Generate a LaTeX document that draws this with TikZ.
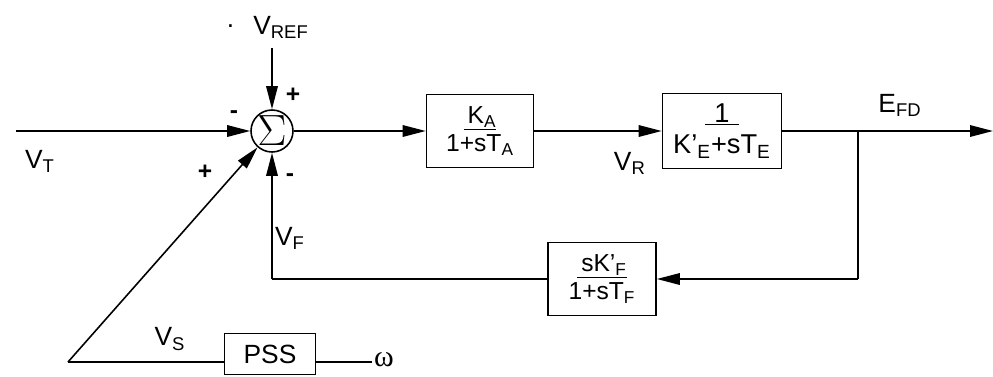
\documentclass[tikz,border=0pt]{standalone}
\usepackage{fontspec}
\setmainfont{Liberation Sans}
\newfontfamily\serifgr{Liberation Serif}
\usetikzlibrary{arrows.meta,positioning,calc}

\begin{document}
\begin{tikzpicture}[
    font=\fontsize{15}{17}\selectfont,
    blk/.style={draw, line width=0.9pt, minimum width=#1, minimum height=1.46cm, align=center, inner sep=2pt, font=\fontsize{14}{16}\selectfont},
    sumnode/.style={draw, circle, line width=0.9pt, minimum size=0.84cm, inner sep=0pt},
    arr/.style={-{Triangle[length=4.6mm,width=2.3mm]}, line width=0.9pt},
    ln/.style={line width=0.9pt},
    sgn/.style={font=\fontsize{14}{16}\selectfont\bfseries}
]
\useasboundingbox (0,0) rectangle (19.86,7.52);

% Summing point and inputs
\node[sumnode] (sum) at (5.44,4.9) {\fontsize{23}{23}\selectfont$\Sigma$};
\coordinate (vtin) at (0.32,4.9);
\coordinate (vrefin) at (5.44,6.56);
\node (vt) at (0.8,4.3) {V\textsubscript{T}};
\node (vref) at (5.62,6.98) {V\textsubscript{REF}};
\node[left=0.25cm of vref.west, yshift=0.02cm, inner sep=0pt] (dot) {.};

\draw[arr] (vtin) -- (sum);
\draw[arr] (vrefin) -- (sum);

% Forward path
\node[blk=2.14cm] (ka) at (9.6,4.9) {\underline{\,K\textsubscript{A}}\\1+sT\textsubscript{A}};
\node[blk=2.38cm, minimum height=1.5cm, font=\fontsize{15.5}{18}\selectfont] (ke) at (14.44,4.9) {\underline{\,\,1\,\,}\\K'\textsubscript{E}+sT\textsubscript{E}};
\coordinate (efd) at (19.86,4.9);
\coordinate (tap) at (17.16,4.9);

\draw[arr] (sum) -- (ka);
\draw[arr] (ka) -- (ke) node[pos=0.75, below=0.3cm] (vr) {V\textsubscript{R}};
\draw[arr] (ke) -- (efd);
\node (efdlbl) at (18.0,5.42) {E\textsubscript{FD}};

% Rate feedback
\node[blk=2.16cm] (kf) at (12.04,1.94) {\underline{\,sK'\textsubscript{F}}\\1+sT\textsubscript{F}};
\coordinate (fbr) at (17.16,1.94);
\coordinate (fbl) at (5.44,1.94);

\draw[ln] (tap) -- (fbr);
\draw[arr] (fbr) -- (kf);
\draw[ln] (kf) -- (fbl);
\draw[arr] (fbl) -- (sum);
\node (vf) at (5.8,2.76) {V\textsubscript{F}};

% Stabilizer
\node[draw, line width=0.9pt, minimum width=1.82cm, minimum height=0.82cm] (pss) at (5.4,0.44) {PSS};
\coordinate (corner) at (1.36,0.28);
\node[anchor=west, inner sep=1pt] (omega) at (7.44,0.32) {\serifgr\fontsize{17}{17}\selectfont ω};

\draw[ln] (omega.west |- corner) -- (pss.east |- corner);
\draw[ln] (pss.west |- corner) -- (corner);
\draw[arr] (corner) -- (sum);
\node (vs) at (3.4,0.74) {V\textsubscript{S}};

% Signs
\node[sgn] at (5.86,5.62) {+};
\node[sgn] at (4.68,5.22) {-};
\node[sgn] at (4.1,4.08) {+};
\node[sgn] at (5.8,3.96) {-};
\end{tikzpicture}
\end{document}
